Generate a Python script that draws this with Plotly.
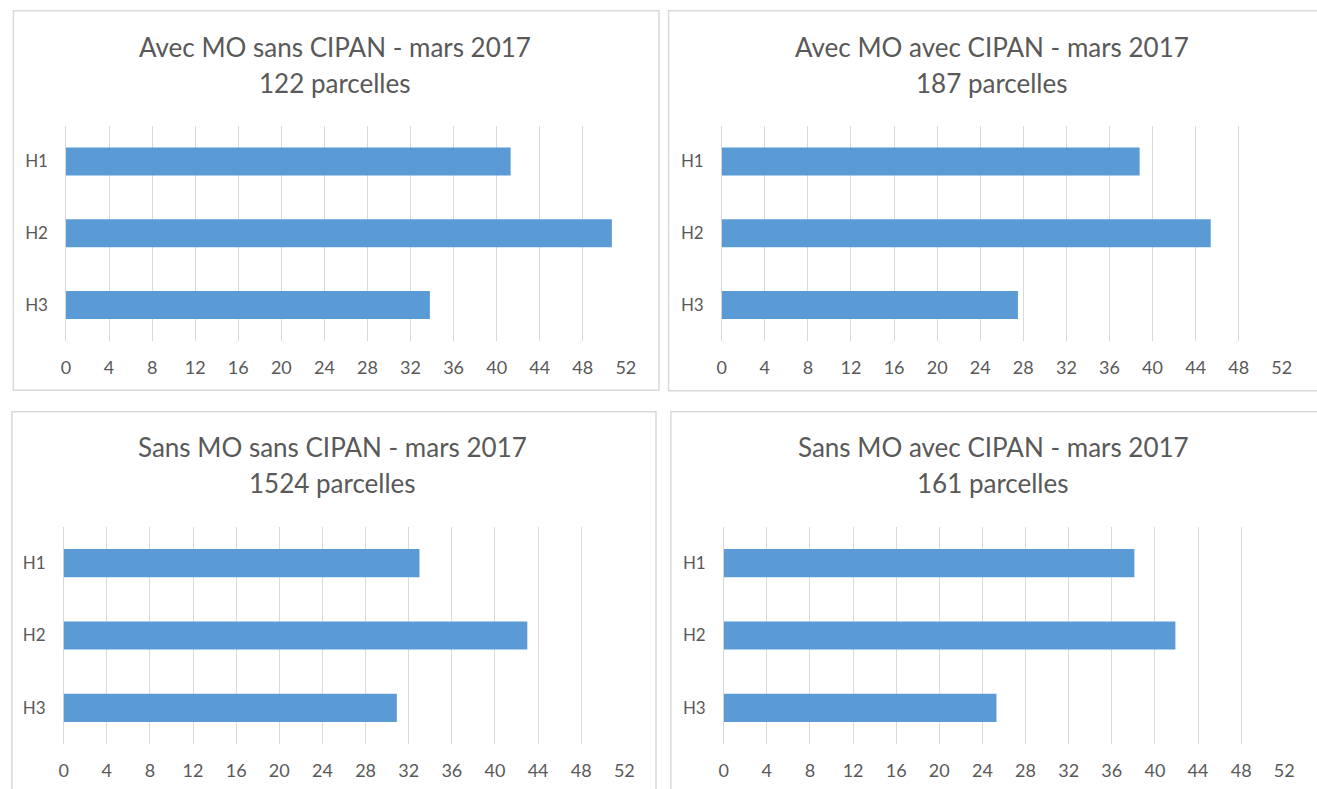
import plotly.graph_objects as go

W, H = 1317, 789

categories = ["H1", "H2", "H3"]
titles_line1 = [
    "Avec MO sans CIPAN - mars 2017",
    "Avec MO avec CIPAN - mars 2017",
    "Sans MO sans CIPAN - mars 2017",
    "Sans MO avec CIPAN - mars 2017",
]
titles_line2 = ["122 parcelles", "187 parcelles", "1524 parcelles", "161 parcelles"]
values_avec_mo_sans_cipan = [41.3, 50.7, 33.8]
values_avec_mo_avec_cipan = [38.8, 45.4, 27.5]
values_sans_mo_sans_cipan = [33.0, 43.0, 30.9]
values_sans_mo_avec_cipan = [38.1, 41.9, 25.3]
series = [values_avec_mo_sans_cipan, values_avec_mo_avec_cipan,
          values_sans_mo_sans_cipan, values_sans_mo_avec_cipan]
x_ticks = list(range(0, 53, 4))

# layout in pixels (x0, x1, ytop, ybottom) of plot areas
plot_px = [(61.7, 628.0, 125.5, 341.0),
           (725.0, 1291.5, 125.5, 341.0),
           (59.3, 626.5, 527.0, 744.0),
           (727.0, 1294.0, 527.0, 744.0)]
border_px = [(8.5, 661.5, 10.8, 390.2),
             (671.2, 1330.0, 10.8, 390.7),
             (7.0, 658.5, 411.8, 800.0),
             (673.5, 1330.0, 411.8, 800.0)]
title_px = [(334.0, 47.0, 83.0), (998.0, 47.0, 83.0),
            (331.5, 447.0, 483.0), (999.5, 447.0, 483.0)]

def px(x):
    return x / W

def py(y):
    return 1 - y / H

BAR = "#5b9bd5"
GRID = "#d9d9d9"
TXT = "#595959"
FONT = "Lato"

fig = go.Figure()
shapes = []
annotations = []
for i, vals in enumerate(series):
    n = i + 1
    xa = "x" if n == 1 else f"x{n}"
    ya = "y" if n == 1 else f"y{n}"
    fig.add_trace(go.Bar(x=vals, y=categories, orientation="h",
                         marker=dict(color=BAR, line=dict(width=0)),
                         width=0.39, xaxis=xa, yaxis=ya, showlegend=False,
                         hoverinfo="x+y"))
    x0, x1, yt, yb = plot_px[i]
    xk = "xaxis" if n == 1 else f"xaxis{n}"
    yk = "yaxis" if n == 1 else f"yaxis{n}"
    fig.layout[xk] = dict(domain=[px(x0), px(x1)], range=[0, 52],
                          tickvals=x_ticks, showgrid=True, gridcolor=GRID,
                          gridwidth=1, zeroline=True, zerolinecolor=GRID,
                          zerolinewidth=1, showline=False, ticks="",
                          ticklabelstandoff=14, fixedrange=True,
                          tickfont=dict(family=FONT, size=18, color=TXT),
                          anchor=ya)
    fig.layout[yk] = dict(domain=[py(yb), py(yt)], autorange="reversed",
                          showgrid=False, zeroline=False, showline=False,
                          ticks="", ticklabelstandoff=17, fixedrange=True,
                          tickfont=dict(family=FONT, size=17, color=TXT),
                          anchor=xa)
    bx0, bx1, byt, byb = border_px[i]
    shapes.append(dict(type="rect", xref="paper", yref="paper",
                       x0=px(bx0), x1=px(bx1), y0=py(byb), y1=py(byt),
                       line=dict(color=GRID, width=1.5), fillcolor="rgba(0,0,0,0)",
                       layer="below"))
    tx, ty1, ty2 = title_px[i]
    for txt, ty in ((titles_line1[i], ty1), (titles_line2[i], ty2)):
        annotations.append(dict(text=txt, xref="paper", yref="paper",
                                x=px(tx), y=py(ty), xanchor="center", yanchor="middle",
                                showarrow=False,
                                font=dict(family=FONT, size=26, color=TXT)))

fig.update_layout(width=W, height=H, margin=dict(l=0, r=0, t=0, b=0),
                  paper_bgcolor="white", plot_bgcolor="white",
                  shapes=shapes, annotations=annotations, bargap=0.6)
fig.write_html("out.html", config={"displayModeBar": False},
               post_script="document.body.style.margin='0px';document.body.style.overflow='hidden';")
